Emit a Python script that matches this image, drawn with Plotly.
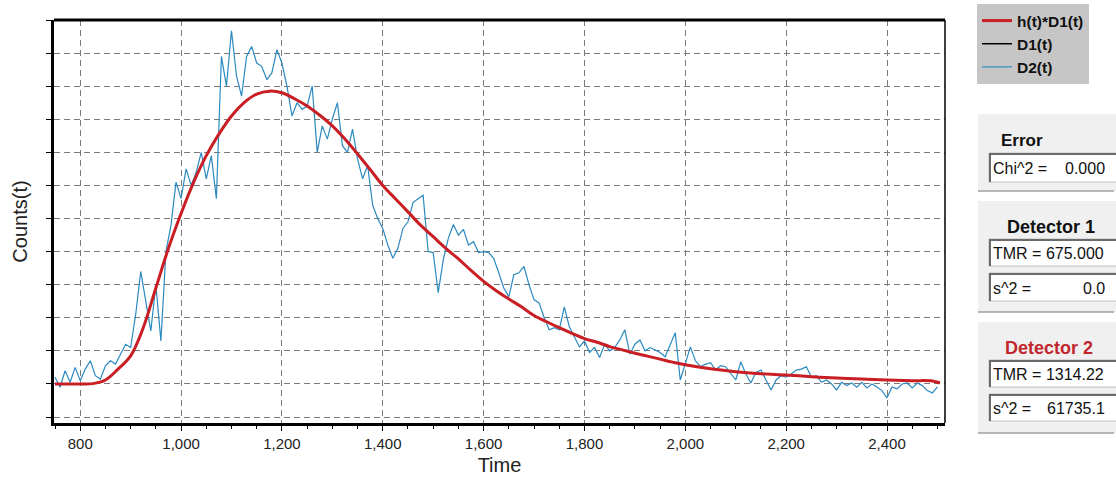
import plotly.graph_objects as go

# ---------------- data ----------------
d2_time = list(range(750, 2501, 10))
d2_counts = [
    20, -10, 40, 5, 50, 10, 45, 70, 25, 15,            # 750-840
    55, 70, 60, 90, 120, 110, 210, 340, 250, 160,       # 850-940
    300, 130, 400, 480, 610, 560, 650, 600, 640, 700,   # 950-1040
    620, 690, 560, 990, 900, 1067, 930, 870, 990, 1020, # 1050-1140
    970, 960, 920, 940, 1010, 970, 900, 810, 850, 830,  # 1150-1240
    840, 900, 700, 780, 740, 800, 850, 720, 700, 770,   # 1250-1340
    680, 620, 660, 540, 500, 470, 420, 380, 410, 470,   # 1350-1440
    490, 548, 560, 570, 400, 397, 276, 376, 440, 482,   # 1450-1540
    450, 467, 420, 430, 397, 400, 397, 380, 336, 290,   # 1550-1640
    264, 330, 336, 355, 300, 255, 245, 200, 164, 170,   # 1650-1740
    164, 233, 173, 140, 112, 130, 95, 110, 80, 120,     # 1750-1840
    100, 110, 133, 164, 90, 120, 133, 100, 110, 103,    # 1850-1940
    95, 82, 120, 155, 12, 64, 112, 70, 52, 60,          # 1950-2040
    64, 42, 55, 52, 30, 12, 67, 30, 3, 35,              # 2050-2140
    42, 10, -18, 12, 25, 21, 30, 42, 45, 52,            # 2150-2240
    21, 25, 5, 12, 0, -18, 5, -5, 3, -10,               # 2250-2340
    5, -12, 0, -9, -20, -42, -9, -15, 0, 3,             # 2350-2440
    -12, 3, -5, -20, -27, -9,                           # 2450-2500
]

fit_time = [750, 775, 800, 825, 850, 875, 900, 925, 950, 975,
            1000, 1025, 1050, 1075, 1100, 1125, 1150, 1175, 1200, 1225,
            1250, 1275, 1300, 1325, 1350, 1375, 1400, 1425, 1450, 1475,
            1500, 1525, 1550, 1575, 1600, 1625, 1650, 1675, 1700, 1725,
            1750, 1775, 1800, 1825, 1850, 1875, 1900, 1925, 1950, 1975,
            2000, 2050, 2100, 2150, 2200, 2250, 2300, 2350, 2400, 2450,
            2490, 2505]
fit_counts = [0, 0, 0, 1, 12, 45, 85, 170, 290, 410,
              515, 610, 690, 755, 810, 850, 876, 885, 880, 862,
              840, 812, 780, 740, 695, 648, 600, 560, 520, 480,
              445, 410, 378, 343, 310, 282, 257, 233, 207, 188,
              170, 153, 137, 126, 113, 103, 93, 84, 75, 66,
              58, 46, 37, 31, 27, 22, 18, 15, 12, 10,
              9, 3]

# Detector 1 is a delta at TMR = 675 (outside the shown time window)
d1_time = [675, 675]
d1_counts = [0, 1000]

x_ticks = [800, 1000, 1200, 1400, 1600, 1800, 2000, 2200, 2400]

panel_error = {"title": "Error", "rows": [("Chi^2 =", "0.000")]}
panel_det1 = {"title": "Detector 1", "rows": [("TMR = 675.000", ""), ("s^2 =", "0.0")]}
panel_det2 = {"title": "Detector 2", "rows": [("TMR = 1314.22", ""), ("s^2 =", "61735.1")]}

# ---------------- layout helpers ----------------
W, H = 1116, 479
ML, MR, MT, MB = 54, 171, 20, 56
PW, PH = W - ML - MR, H - MT - MB


def px(x):
    return (x - ML) / PW


def py(y):
    return (H - MB - y) / PH


FONT = "Liberation Sans, Arial, sans-serif"

fig = go.Figure()
fig.add_trace(go.Scatter(x=d2_time, y=d2_counts, mode="lines", name="D2(t)",
                         line=dict(color="#2c8ac0", width=1.2)))
fig.add_trace(go.Scatter(x=d1_time, y=d1_counts, mode="lines", name="D1(t)",
                         line=dict(color="black", width=1.5)))
fig.add_trace(go.Scatter(x=fit_time, y=fit_counts, mode="lines", name="h(t)*D1(t)",
                         line=dict(color="#c81e24", width=3, shape="spline")))

shapes = []
annotations = []

# frame: top thick, right thin
shapes.append(dict(type="line", xref="paper", yref="paper", x0=0, x1=1, y0=1, y1=1,
                   line=dict(color="black", width=3)))
shapes.append(dict(type="line", xref="paper", yref="paper", x0=1, x1=1, y0=0, y1=1,
                   line=dict(color="black", width=1.5)))


def add_panel(panel, top, title_y, box_tops, bottom, title_x, title_color, title_size):
    shapes.append(dict(type="rect", xref="paper", yref="paper", x0=px(978), x1=px(1120),
                       y0=py(bottom), y1=py(top), fillcolor="#f0f0f0", line=dict(width=0), layer="below"))
    shapes.append(dict(type="line", xref="paper", yref="paper", x0=px(978), x1=px(1114),
                       y0=py(bottom), y1=py(bottom), line=dict(color="#a0a0a0", width=1.5)))
    annotations.append(dict(xref="paper", yref="paper", x=px(title_x), y=py(title_y),
                            text="<b>%s</b>" % panel["title"], showarrow=False,
                            xanchor="center", yanchor="middle",
                            font=dict(family=FONT, size=title_size, color=title_color)))
    for (label, value), (b0, b1) in zip(panel["rows"], box_tops):
        shapes.append(dict(type="rect", xref="paper", yref="paper", x0=px(989), x1=px(1122),
                           y0=py(b1), y1=py(b0), fillcolor="white",
                           line=dict(color="#c0c0c0", width=1)))
        shapes.append(dict(type="line", xref="paper", yref="paper", x0=px(989), x1=px(1122),
                           y0=py(b0 + 1), y1=py(b0 + 1), line=dict(color="#6a6a6a", width=2)))
        shapes.append(dict(type="line", xref="paper", yref="paper", x0=px(990), x1=px(990),
                           y0=py(b1), y1=py(b0), line=dict(color="#6a6a6a", width=2)))
        yc = py((b0 + b1) / 2 + 1)
        annotations.append(dict(xref="paper", yref="paper", x=px(991), y=yc, text=label,
                                showarrow=False, xanchor="left", yanchor="middle",
                                font=dict(family=FONT, size=16, color="#111")))
        if value:
            annotations.append(dict(xref="paper", yref="paper", x=px(1107), y=yc, text=value,
                                    showarrow=False, xanchor="right", yanchor="middle",
                                    font=dict(family=FONT, size=16, color="#111")))


add_panel(panel_error, 114, 140, [(153, 182)], 191, 1022, "#111", 17)
add_panel(panel_det1, 201, 227, [(239, 266), (273, 301)], 312, 1051, "#111", 18)
add_panel(panel_det2, 322, 348, [(360, 387), (394, 421)], 433, 1049, "#c0282d", 18)

fig.update_layout(
    width=W, height=H,
    margin=dict(l=ML, r=MR, t=MT, b=MB, autoexpand=False),
    paper_bgcolor="white", plot_bgcolor="white",
    showlegend=True,
    legend=dict(x=px(977), y=py(4), xanchor="left", yanchor="top",
                bgcolor="#c6c6c6", borderwidth=0, traceorder="reversed",
                font=dict(family=FONT, size=15.5, color="#111"),
                itemwidth=30, tracegroupgap=0,
                entrywidth=80, entrywidthmode="pixels"),
    shapes=shapes, annotations=annotations,
    font=dict(family=FONT, color="#222"),
)
for tr in fig.data:
    tr.name = "<b>%s</b>" % tr.name

fig.update_xaxes(
    range=[748, 2515], tickvals=x_ticks, ticktext=[f"{v:,}" for v in x_ticks],
    showgrid=True, gridcolor="#7a7a7a", griddash="6px,4px", gridwidth=1,
    showline=True, linecolor="black", linewidth=3, mirror=False,
    ticks="outside", ticklen=5, tickcolor="black", tickwidth=1,
    minor=dict(dtick=50, tick0=800, ticks="outside", ticklen=3, tickcolor="black", showgrid=False),
    tickfont=dict(family=FONT, size=15, color="#222"),
    title=dict(text="Time", font=dict(family=FONT, size=20, color="#222"), standoff=7),
    zeroline=False,
)
fig.update_yaxes(
    range=[-118, 1100], dtick=100, tick0=0, showticklabels=False,
    showgrid=True, gridcolor="#7a7a7a", griddash="6px,4px", gridwidth=1,
    showline=True, linecolor="black", linewidth=3, mirror=False,
    ticks="outside", ticklen=5, tickcolor="black",
    title=dict(text="Counts(t)", font=dict(family=FONT, size=20, color="#222"), standoff=14),
    zeroline=False,
)

fig.write_html(
    "out.html",
    config={"displayModeBar": False},
    post_script="document.body.style.margin='0';document.body.style.overflow='hidden';",
)
